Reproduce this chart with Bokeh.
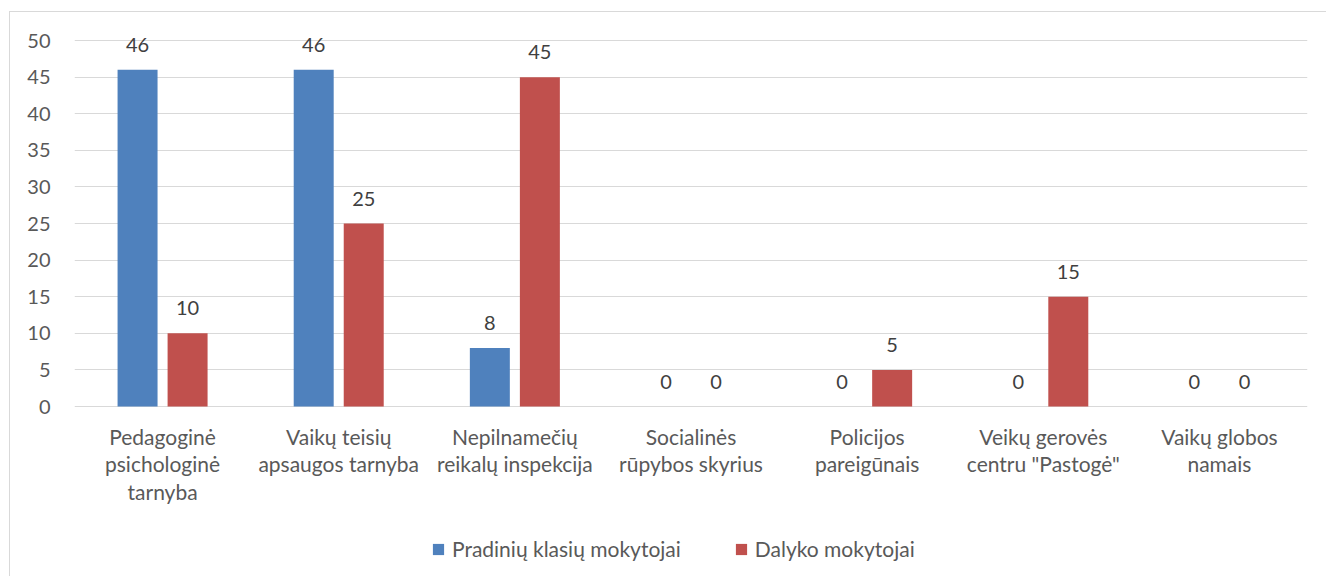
from bokeh.plotting import figure
from bokeh.models import ColumnDataSource, FactorRange, Range1d, Legend, LegendItem, FixedTicker
from bokeh.transform import dodge
from bokeh.embed import file_html
from bokeh.resources import INLINE
from bokeh.core.properties import value

categories = ["Pedagoginė\npsichologinė\ntarnyba", "Vaikų teisių\napsaugos tarnyba",
              "Nepilnamečių\nreikalų inspekcija", "Socialinės\nrūpybos skyrius",
              "Policijos\npareigūnais", "Veikų gerovės\ncentru \"Pastogė\"",
              "Vaikų globos\nnamais"]
pradiniu = [46, 46, 8, 0, 0, 0, 0]
dalyko = [10, 25, 45, 0, 5, 15, 0]
series_names = ["Pradinių klasių mokytojai", "Dalyko mokytojai"]
y_ticks = [0, 5, 10, 15, 20, 25, 30, 35, 40, 45, 50]
colors = ["#4F81BD", "#C0504D"]

FONT = "Lato"

src = ColumnDataSource(dict(cat=categories, a=pradiniu, b=dalyko, zero=[0] * len(categories),
                            la=[str(v) for v in pradiniu], lb=[str(v) for v in dalyko]))

# frame spans the full figure height; 0 sits 394px below the top, 7.32 px per unit
p = figure(width=1317, height=565, output_backend="svg", toolbar_location=None,
           x_range=FactorRange(*categories, range_padding=0), y_range=Range1d(-23.36, 53.83),
           min_border_left=64, min_border_right=20, min_border_top=0, min_border_bottom=0,
           styles={"border-top": "1px solid #d9d9d9", "border-left": "1px solid #d9d9d9",
                   "margin-left": "9px", "margin-top": "11px"})

p.outline_line_color = None
p.xgrid.grid_line_color = None
p.ygrid.grid_line_color = "#d9d9d9"
p.ygrid.grid_line_width = 1
p.yaxis.ticker = FixedTicker(ticks=y_ticks)
p.xaxis.visible = False

p.yaxis.axis_line_color = None
p.yaxis.major_tick_line_color = None
p.yaxis.major_tick_out = 0
p.yaxis.major_tick_in = 0
p.yaxis.minor_tick_line_color = None
p.yaxis.major_label_text_font = FONT
p.yaxis.major_label_text_font_size = "20px"
p.yaxis.major_label_text_color = "#595959"
p.yaxis.major_label_standoff = 24

bw = 0.227
off = 0.142
ra = p.vbar(x=dodge("cat", -off, range=p.x_range), top="a", width=bw, source=src,
            fill_color=colors[0], line_color=None)
rb = p.vbar(x=dodge("cat", off, range=p.x_range), top="b", width=bw, source=src,
            fill_color=colors[1], line_color=None)

for col, lab, o in (("a", "la", -off), ("b", "lb", off)):
    p.text(x=dodge("cat", o, range=p.x_range), y=col, text=lab, source=src,
           text_align="center", text_baseline="middle", y_offset=-25,
           text_font=value(FONT), text_font_size="20px", text_color="#404040")

# category labels under the zero line
p.text(x="cat", y="zero", text="cat", source=src, text_align="center", text_baseline="top",
       y_offset=17, text_font=value(FONT), text_font_size="21px", text_color="#595959",
       text_line_height=1.1)

legend = Legend(items=[LegendItem(label=series_names[0], renderers=[ra]),
                       LegendItem(label=series_names[1], renderers=[rb])],
                orientation="horizontal", location=(357, 16),
                glyph_width=14, glyph_height=14, label_standoff=7, spacing=53,
                padding=5, margin=0,
                label_text_font=FONT, label_text_font_size="21px",
                label_text_color="#595959", border_line_color=None,
                background_fill_alpha=0)
p.add_layout(legend, "center")

open("out.html", "w").write(file_html(p, INLINE))
